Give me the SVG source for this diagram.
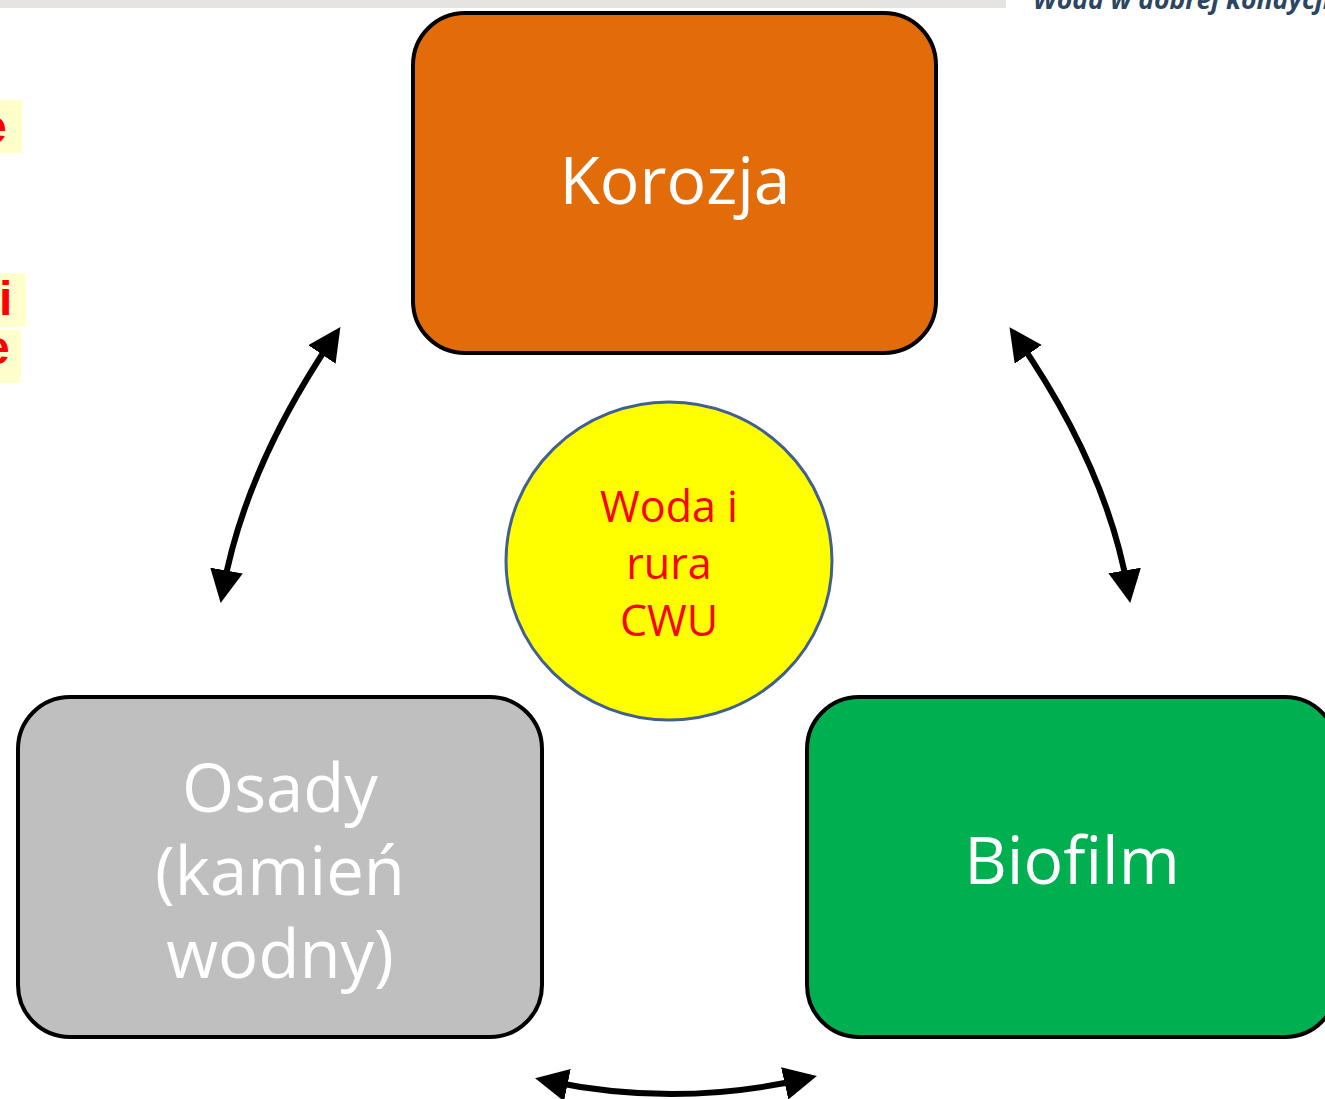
<svg xmlns="http://www.w3.org/2000/svg" width="1325" height="1099" viewBox="0 0 1325 1099">
<defs>
<marker id="ah" viewBox="0 0 10 10" refX="6" refY="5" markerWidth="5.5" markerHeight="5.5" orient="auto-start-reverse" markerUnits="strokeWidth">
<path d="M0,0 L10,5 L0,10 z" fill="#000"/>
</marker>
</defs>
<style>
.box{stroke:#000;stroke-width:4}
.lbl{font-family:"Open Sans","Liberation Sans",sans-serif;fill:#fff;text-anchor:middle;font-size:66px}
.big{font-size:67px}
.ctr{font-family:"Open Sans","Liberation Sans",sans-serif;fill:#f00;text-anchor:middle;font-size:43px}
.side{font-family:"Liberation Sans",Arial,sans-serif;font-weight:bold;fill:#f00;font-size:48px}
.hl{fill:#FFFFCC}
.conn{fill:none;stroke:#000;stroke-width:6;marker-start:url(#ah);marker-end:url(#ah)}
</style>
<rect x="0" y="0" width="1325" height="1099" fill="#fff"/>
<rect x="0" y="0" width="1006" height="8" fill="#E6E4E2"/>
<text x="1033" y="9" font-family="'Open Sans','Liberation Sans',sans-serif" font-size="26.5" font-weight="bold" font-style="italic" fill="#2B4563">Woda w dobrej kondycji</text>
<g id="side-text">
<rect class="hl" x="0" y="100" width="22" height="53"/>
<text class="side" x="-20" y="143">e</text>
<rect class="hl" x="0" y="273" width="26" height="54"/>
<text class="side" x="-1" y="315">i</text>
<rect class="hl" x="0" y="330" width="21" height="53"/>
<text class="side" x="-17" y="364">e</text>
</g>
<g id="korozja">
<rect class="box" x="413" y="13" width="523" height="340" rx="52" fill="#E36C0A"/>
<text class="lbl" x="675" y="204">Korozja</text>
</g>
<g id="osady">
<rect class="box" x="18" y="697" width="524" height="340" rx="52" fill="#BFBFBF"/>
<text class="lbl big" x="280" y="812">Osady</text>
<text class="lbl big" x="280" y="895">(kamień</text>
<text class="lbl big" x="280" y="978">wodny)</text>
</g>
<g id="biofilm">
<rect class="box" x="807" y="697" width="530" height="340" rx="52" fill="#00B050"/>
<text class="lbl" x="1072" y="884">Biofilm</text>
</g>
<g id="center">
<ellipse cx="669" cy="561" rx="163" ry="159" fill="#FFFF00" stroke="#41608F" stroke-width="3"/>
<text class="ctr" x="669" y="522">Woda i</text>
<text class="ctr" x="669" y="579">rura</text>
<text class="ctr" x="669" y="636">CWU</text>
</g>
<g id="connectors">
<path class="conn" d="M223,590 Q245,468 333,338"/>
<path class="conn" d="M1017,338 Q1107,468 1128,590"/>
<path class="conn" d="M548,1081 Q676,1108 804,1079"/>
</g>
</svg>
